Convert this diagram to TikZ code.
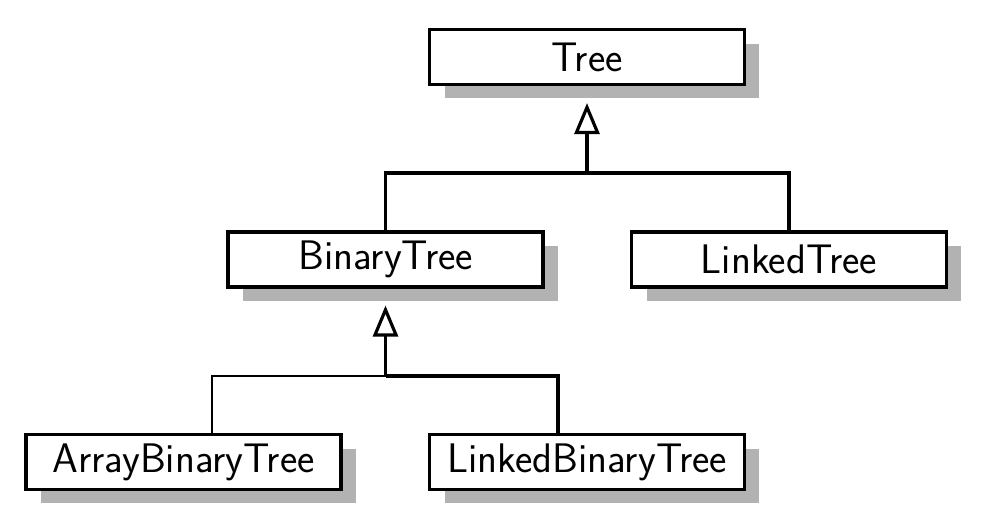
\documentclass[tikz,border=0pt]{standalone}
\usepackage{fontspec}
\usetikzlibrary{arrows.meta,shadows}

\tikzset{
  cls/.style={draw, line width=1.8pt, fill=white, minimum width=6.3cm, minimum height=1.1cm,
    font=\sffamily\fontsize{23.5}{28}\selectfont,
    drop shadow={shadow xshift=0.3cm, shadow yshift=-0.28cm, fill=black!30, opacity=1}},
  link/.style={line width=1.8pt},
  thinlink/.style={line width=1.1pt},
  inherit/.style={line width=1.8pt, -{Triangle[open, length=0.62cm, width=0.5cm]}}
}

\begin{document}
\begin{tikzpicture}[x=0.02cm, y=-0.02cm]
\useasboundingbox (0,0) rectangle (988,527);

\node[cls] (tree) at (587,57) {Tree};

\node[cls] (bintree) at (385.5,259.5) {BinaryTree};
\node[cls] (lnktree) at (789,259.5) {LinkedTree};

\node[cls] (arrbin) at (183.5,462) {ArrayBinaryTree};
\node[cls] (lnkbin) at (587,462) {LinkedBinaryTree};

\coordinate (j1) at (587,173);
\coordinate (j2) at (385.5,376);

\draw[link] (bintree.north) |- (j1) -| (lnktree.north);
\draw[inherit] (j1) -- ([yshift=-0.34cm]tree.south);

\draw[thinlink] ([xshift=0.57cm]arrbin.north) |- (j2);
\draw[link] (j2) -| ([xshift=-0.58cm]lnkbin.north);
\draw[inherit] (j2) -- ([yshift=-0.34cm]bintree.south);

\end{tikzpicture}
\end{document}
